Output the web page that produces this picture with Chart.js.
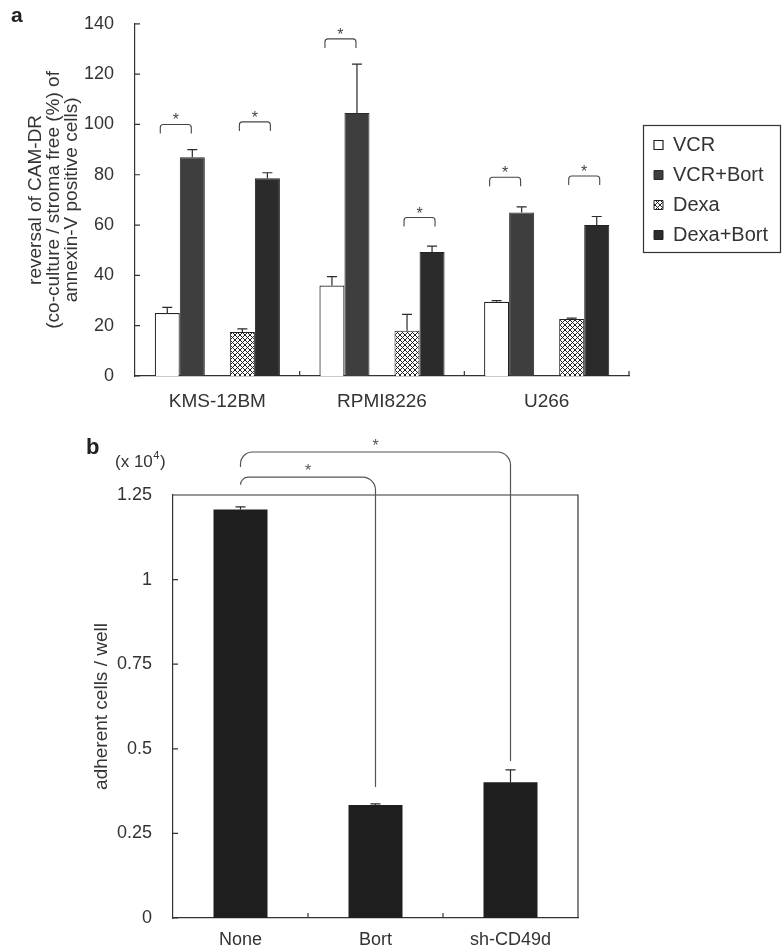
<!DOCTYPE html>
<html lang="en">
<head>
  <meta charset="UTF-8">
  <title>CAM-DR reversal and adhesion</title>
  <script src="https://cdn.jsdelivr.net/npm/chart.js"></script>
  <style>
    body { margin: 0; background: #fff; }
    canvas { position: absolute; left: 0; }
    #chartA { top: 0; }
    #chartB { top: 420px; }
  </style>
</head>
<body>
  <canvas id="chartA" width="782" height="420"></canvas>
  <canvas id="chartB" width="782" height="529"></canvas>
  <script>
    // ---- panel a data ----
    const cellLines = ['KMS-12BM', 'RPMI8226', 'U266'];
    const vcr = [25, 36, 29.5];
    const vcrErr = [2.3, 3.5, 0.5];
    const vcrBort = [87, 104.5, 65];
    const vcrBortErr = [3, 19.5, 2.2];
    const dexa = [17.5, 18, 22.7];
    const dexaErr = [1.2, 6.5, 0.3];
    const dexaBort = [78.6, 49.3, 60];
    const dexaBortErr = [2.2, 2.3, 3.4];
    const ticksA = [0, 20, 40, 60, 80, 100, 120, 140];
    // height of the significance brackets (same units as the y axis)
    const sigVcr = [100, 134, 79];
    const sigDexa = [101, 63, 79.5];

    // ---- panel b data ----
    const treatments = ['None', 'Bort', 'sh-CD49d'];
    const adherent = [1.207, 0.334, 0.401];
    const adherentErr = [0.008, 0.003, 0.037];
    const ticksB = [0, 0.25, 0.5, 0.75, 1, 1.25];
    // brackets from "None" to another bar
    const sigTarget = [1, 2];
    const sigLevel = [1.303, 1.377];
    const sigStart = [1.28, 1.333];
    const sigEnd = [0.387, 0.464];

    Chart.defaults.font.family = "'Liberation Sans', Arial, Helvetica, sans-serif";
    Chart.defaults.color = '#333';

    // cross hatch fill for Dexa
    function hatch() {
      const c = document.createElement('canvas');
      const n = 5;
      c.width = n; c.height = n;
      const g = c.getContext('2d');
      g.fillStyle = '#fff';
      g.fillRect(0, 0, n, n);
      g.strokeStyle = '#222';
      g.lineWidth = 1;
      g.beginPath();
      for (const k of [-n, 0, n]) {
        g.moveTo(k, 0); g.lineTo(k + n, n);
        g.moveTo(k + n, 0); g.lineTo(k, n);
      }
      g.stroke();
      return g.createPattern(c, 'repeat');
    }

    // upward error bars, read from dataset.errors
    const errorBars = {
      id: 'errorBars',
      afterDatasetsDraw(chart) {
        const ctx = chart.ctx, y = chart.scales.y;
        ctx.save();
        ctx.strokeStyle = '#2a2a2a';
        ctx.lineWidth = 1.2;
        chart.data.datasets.forEach((ds, i) => {
          if (!ds.errors) return;
          chart.getDatasetMeta(i).data.forEach((bar, j) => {
            const top = y.getPixelForValue(ds.data[j] + ds.errors[j]);
            ctx.beginPath();
            ctx.moveTo(bar.x, bar.y);
            ctx.lineTo(bar.x, top);
            ctx.moveTo(bar.x - 5, top);
            ctx.lineTo(bar.x + 5, top);
            ctx.stroke();
          });
        });
        ctx.restore();
      }
    };

    // inward tick marks (+ optional frame)
    const axisMarks = {
      id: 'axisMarks',
      afterDraw(chart, args, opts) {
        const { ctx, chartArea: a, scales: { x, y } } = chart;
        ctx.save();
        ctx.strokeStyle = '#333';
        ctx.lineWidth = 1.2;
        ctx.beginPath();
        y.ticks.forEach(t => {
          const py = y.getPixelForValue(t.value);
          ctx.moveTo(a.left, py);
          ctx.lineTo(a.left + 5, py);
        });
        const last = opts.endTick ? x.ticks.length : x.ticks.length - 1;
        for (let i = 1; i <= last; i++) {
          const px = x.getPixelForValue(i - 0.5);
          ctx.moveTo(px, a.bottom);
          ctx.lineTo(px, a.bottom - 5);
        }
        if (opts.frame) {
          ctx.moveTo(a.left, a.top);
          ctx.lineTo(a.right, a.top);
          ctx.lineTo(a.right, a.bottom);
        }
        ctx.stroke();
        ctx.restore();
      }
    };

    // panel a: letter, brackets with asterisks, legend frame
    const panelA = {
      id: 'panelA',
      afterLayout(chart) {
        const lg = chart.legend;
        const w = lg.width, h = lg.height;
        lg.left = 644; lg.top = 125;
        lg.right = lg.left + w; lg.bottom = lg.top + h;
      },
      afterDraw(chart) {
        const { ctx, scales: { y } } = chart;
        ctx.save();
        ctx.fillStyle = '#222';
        ctx.font = "bold 21px 'Liberation Sans', Arial, sans-serif";
        ctx.textBaseline = 'middle';
        ctx.fillText('a', 11, 16);

        ctx.strokeStyle = '#444';
        ctx.fillStyle = '#444';
        ctx.lineWidth = 1.1;
        ctx.font = "16px 'Liberation Sans', Arial, sans-serif";
        ctx.textAlign = 'center';
        ctx.textBaseline = 'alphabetic';
        const pairs = [[0, 1, sigVcr, -4], [3, 4, sigDexa, 0]];
        pairs.forEach(([a, b, levels, shift]) => {
          const ma = chart.getDatasetMeta(a).data, mb = chart.getDatasetMeta(b).data;
          levels.forEach((lv, j) => {
            const cx = (ma[j].x + mb[j].x) / 2 + shift;
            const py = y.getPixelForValue(lv);
            const l = cx - 15.5, r = cx + 15.5;
            ctx.beginPath();
            ctx.moveTo(l, py + 9);
            ctx.lineTo(l, py + 3);
            ctx.quadraticCurveTo(l, py, l + 3, py);
            ctx.lineTo(r - 3, py);
            ctx.quadraticCurveTo(r, py, r, py + 3);
            ctx.lineTo(r, py + 9);
            ctx.stroke();
            ctx.fillText('*', cx, py + 1);
          });
        });

        ctx.strokeStyle = '#333';
        ctx.lineWidth = 1.2;
        ctx.strokeRect(643.5, 125.5, 137, 127);
        ctx.restore();
      }
    };

    new Chart(document.getElementById('chartA'), {
      type: 'bar',
      data: {
        labels: cellLines,
        datasets: [
          { label: 'VCR', data: vcr, errors: vcrErr, backgroundColor: '#fff', borderColor: '#222', borderWidth: 1.2 },
          { label: 'VCR+Bort', data: vcrBort, errors: vcrBortErr, backgroundColor: '#3e3e3e', borderColor: '#2a2a2a', borderWidth: 1 },
          { label: '', data: cellLines.map(() => null) }, // empty slot between the pairs
          { label: 'Dexa', data: dexa, errors: dexaErr, backgroundColor: hatch(), borderColor: '#222', borderWidth: 1 },
          { label: 'Dexa+Bort', data: dexaBort, errors: dexaBortErr, backgroundColor: '#2b2b2b', borderColor: '#222', borderWidth: 1 }
        ]
      },
      options: {
        responsive: false,
        animation: false,
        events: [],
        categoryPercentage: 0.76,
        barPercentage: 1,
        layout: { padding: { left: 18, top: 16, right: 153, bottom: 0 } },
        plugins: {
          legend: {
            position: 'chartArea',
            align: 'start',
            labels: {
              boxWidth: 9,
              boxHeight: 9,
              padding: 10,
              color: '#333',
              font: { size: 20 },
              filter: item => item.text !== ''
            }
          },
          tooltip: { enabled: false },
          axisMarks: { endTick: true, frame: false }
        },
        scales: {
          x: {
            grid: { display: false },
            border: { color: '#333', width: 1.2 },
            ticks: { font: { size: 19 }, padding: 6, color: '#333' },
            afterFit: s => { s.height = 44; }
          },
          y: {
            min: 0,
            max: 140,
            grid: { display: false },
            border: { color: '#333', width: 1.2 },
            afterBuildTicks: s => { s.ticks = ticksA.map(v => ({ value: v })); },
            ticks: { font: { size: 18 }, padding: 13, color: '#333' },
            title: {
              display: true,
              text: ['reversal of CAM-DR', '(co-culture / stroma free (%) of', 'annexin-V positive cells)'],
              font: { size: 19, lineHeight: '18px' },
              padding: { top: 9, bottom: 0 },
              color: '#333'
            },
            afterFit: s => { s.width = 117; }
          }
        }
      },
      plugins: [errorBars, axisMarks, panelA]
    });

    // panel b: letter, unit, brackets
    const panelB = {
      id: 'panelB',
      afterDraw(chart) {
        const { ctx, scales: { y } } = chart;
        const bars = chart.getDatasetMeta(0).data;
        ctx.save();
        ctx.fillStyle = '#222';
        ctx.textBaseline = 'middle';
        ctx.font = "bold 22px 'Liberation Sans', Arial, sans-serif";
        ctx.fillText('b', 86, 28);

        ctx.fillStyle = '#333';
        ctx.font = "17px 'Liberation Sans', Arial, sans-serif";
        let x = 115;
        ctx.fillText('(x 10', x, 42);
        x += ctx.measureText('(x 10').width;
        ctx.font = "11px 'Liberation Sans', Arial, sans-serif";
        ctx.fillText('4', x + 0.5, 36);
        x += ctx.measureText('4').width + 1;
        ctx.font = "17px 'Liberation Sans', Arial, sans-serif";
        ctx.fillText(')', x, 42);

        ctx.strokeStyle = '#555';
        ctx.fillStyle = '#555';
        ctx.lineWidth = 1.2;
        ctx.font = "16px 'Liberation Sans', Arial, sans-serif";
        ctx.textAlign = 'center';
        ctx.textBaseline = 'alphabetic';
        sigTarget.forEach((t, k) => {
          const x0 = bars[0].x, x1 = bars[t].x;
          const yS = y.getPixelForValue(sigStart[k]);
          const yH = y.getPixelForValue(sigLevel[k]);
          const yE = y.getPixelForValue(sigEnd[k]);
          ctx.beginPath();
          ctx.moveTo(x0, yS);
          ctx.arcTo(x0, yH, x1, yH, Math.min(12, yS - yH));
          ctx.arcTo(x1, yH, x1, yE, 13);
          ctx.lineTo(x1, yE);
          ctx.stroke();
          ctx.fillText('*', (x0 + x1) / 2, yH - 1);
        });
        ctx.restore();
      }
    };

    new Chart(document.getElementById('chartB'), {
      type: 'bar',
      data: {
        labels: treatments,
        datasets: [
          { label: 'adherent cells', data: adherent, errors: adherentErr, backgroundColor: '#1e1e1e', borderWidth: 0 }
        ]
      },
      options: {
        responsive: false,
        animation: false,
        events: [],
        categoryPercentage: 1,
        barPercentage: 0.4,
        layout: { padding: { left: 92, top: 75, right: 204, bottom: 0 } },
        plugins: {
          legend: { display: false },
          tooltip: { enabled: false },
          axisMarks: { endTick: false, frame: true }
        },
        scales: {
          x: {
            grid: { display: false },
            border: { color: '#333', width: 1.2 },
            ticks: { font: { size: 18 }, padding: 3, color: '#333' },
            afterFit: s => { s.height = 31; }
          },
          y: {
            min: 0,
            max: 1.25,
            grid: { display: false },
            border: { color: '#333', width: 1.2 },
            afterBuildTicks: s => { s.ticks = ticksB.map(v => ({ value: v })); },
            ticks: { font: { size: 18 }, padding: 13, color: '#333', callback: v => String(v) },
            title: {
              display: true,
              text: 'adherent cells / well',
              font: { size: 19, lineHeight: '19px' },
              padding: { top: 0, bottom: 0 },
              color: '#333'
            },
            afterFit: s => { s.width = 81; }
          }
        }
      },
      plugins: [errorBars, axisMarks, panelB]
    });
  </script>
</body>
</html>
